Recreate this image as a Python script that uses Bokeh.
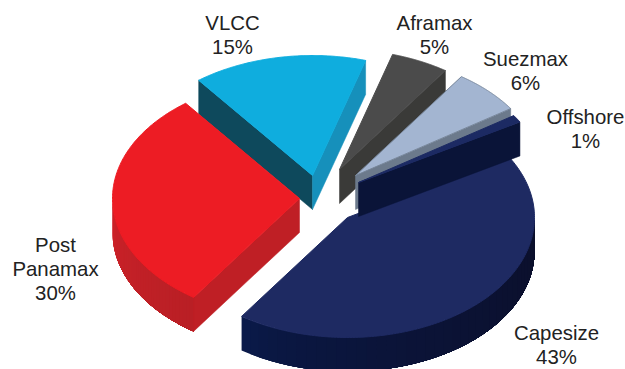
import numpy as np
from bokeh.core.properties import value
from bokeh.embed import file_html
from bokeh.models import Range1d
from bokeh.plotting import figure
from bokeh.resources import INLINE

# Fleet share by vessel class, listed clockwise from the lower left
categories = ["Post Panamax", "VLCC", "Aframax", "Suezmax", "Offshore", "Capesize"]
shares = [30, 15, 5, 6, 1, 43]

# Slice styling, keyed by vessel class
TOP = {"Post Panamax": "#ed1c24", "VLCC": "#0fadde", "Aframax": "#4b4b4b",
       "Suezmax": "#a3b5d1", "Offshore": "#1c2a63", "Capesize": "#1e2a62"}
CCW_WALL = {"Post Panamax": "#bf1f25", "VLCC": "#0e495c"}
CW_WALL = {"VLCC": "#1690bb", "Aframax": "#3a3a38", "Suezmax": "#6c7a8c", "Offshore": "#0a1438"}
RIM = {"Post Panamax": ("#d2232a", "#b91f25"), "Capesize": ("#0a1a4a", "#0b0f2b")}
OUTLINE = {"Suezmax": "#77869a"}

# Exploded apex of each slice on the canvas
APEX = {"Post Panamax": (299, 198), "VLCC": (312, 175), "Aframax": (339, 169),
        "Suezmax": (355, 175), "Offshore": (358, 182), "Capesize": (347, 217)}
# Labels: centre x and y of the first line
LABEL_POS = {"Post Panamax": (55, 244), "VLCC": (232, 22), "Aframax": (434, 22),
             "Suezmax": (525, 58), "Offshore": (585, 116), "Capesize": (556, 332)}
LABEL_LINES = {"Post Panamax": ["Post", "Panamax"]}

RX, RY, DEPTH = 187.0, 120.0, 34.0
START_ANGLE = 235.5
LINE_STEP = 24

p = figure(width=625, height=369, output_backend="svg", toolbar_location=None,
           x_range=Range1d(0, 625), y_range=Range1d(369, 0),
           min_border=0, outline_line_color=None, background_fill_color="white")
p.axis.visible = False
p.grid.visible = False


def rim_point(apex, theta):
    t = np.radians(theta)
    return apex[0] + RX * np.cos(t), apex[1] - RY * np.sin(t)


def mix(a, b, f):
    ca = [int(a[i:i + 2], 16) for i in (1, 3, 5)]
    cb = [int(b[i:i + 2], 16) for i in (1, 3, 5)]
    return "#" + "".join(f"{round(x + (y - x) * f):02x}" for x, y in zip(ca, cb))


def wall(apex, theta, color):
    x, y = rim_point(apex, theta)
    p.patch([apex[0], x, x, apex[0]], [apex[1], y, y + DEPTH, apex[1] + DEPTH],
            fill_color=color, line_color=color, line_width=0.5)


# Angular extent of each slice, derived from its share
angles = {}
a0 = START_ANGLE
for name, share in zip(categories, shares):
    a1 = a0 - share * 3.6
    angles[name] = (a0, a1)
    a0 = a1

# Painting order keeps the thin front slices above the large one
for name in ["Capesize", "VLCC", "Post Panamax", "Aframax", "Suezmax", "Offshore"]:
    a_ccw, a_cw = angles[name]
    apex = APEX[name]

    if name in RIM:
        # Curved outer wall: the part facing the viewer, shaded by overlapping bands
        if name == "Post Panamax":
            lo, hi = 180.0, a_ccw
        else:
            lo, hi = a_cw, 0.0
        for f in np.linspace(0, 1, 40, endpoint=False):
            color = mix(RIM[name][0], RIM[name][1], f ** 0.6)
            th = np.linspace(lo + (hi - lo) * f, hi, 80)
            xs, ys = rim_point(apex, th)
            p.patch(list(xs) + list(xs[::-1]), list(ys) + list((ys + DEPTH)[::-1]),
                    fill_color=color, line_color=None)

    if name in CCW_WALL:
        wall(apex, a_ccw, CCW_WALL[name])
    if name in CW_WALL:
        wall(apex, a_cw, CW_WALL[name])

    th = np.linspace(a_ccw, a_cw, 160)
    xs, ys = rim_point(apex, th)
    line = OUTLINE.get(name, TOP[name])
    p.patch([apex[0]] + list(xs), [apex[1]] + list(ys),
            fill_color=TOP[name], line_color=line, line_width=1)

# Category names with their percentage underneath
for name, share in zip(categories, shares):
    lines = LABEL_LINES.get(name, [name]) + [f"{share}%"]
    x, y = LABEL_POS[name]
    p.text([x] * len(lines), [y + i * LINE_STEP for i in range(len(lines))], text=lines,
           text_font=value("Liberation Sans"), text_font_size="20.4px", text_color="#222222",
           text_align="center", text_baseline="middle")

open("out.html", "w").write(file_html(p, INLINE))
